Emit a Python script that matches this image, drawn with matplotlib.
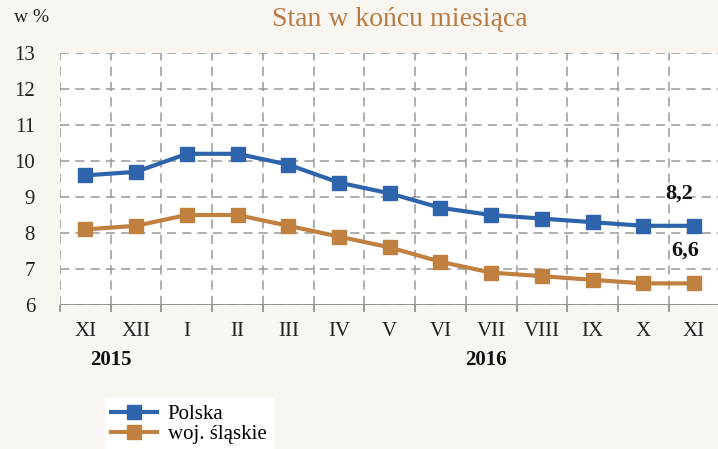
import matplotlib.pyplot as plt

# Miesiące (XI 2015 - XI 2016)
miesiace = ["XI", "XII", "I", "II", "III", "IV", "V", "VI", "VII", "VIII", "IX", "X", "XI"]

# Stopa bezrobocia w %
polska = [9.6, 9.7, 10.2, 10.2, 9.9, 9.4, 9.1, 8.7, 8.5, 8.4, 8.3, 8.2, 8.2]
slaskie = [8.1, 8.2, 8.5, 8.5, 8.2, 7.9, 7.6, 7.2, 6.9, 6.8, 6.7, 6.6, 6.6]

niebieski = "#2e64ab"
pomaranczowy = "#c0803f"
tlo = "#f9f6f1"
serif = ["Liberation Serif", "DejaVu Serif"]

fig = plt.figure(figsize=(7.18, 4.49), dpi=100, facecolor=tlo)
ax = fig.add_axes([60 / 718, 1 - 305 / 449, 1 - 60 / 718 + 0.002, (305 - 53) / 449])
ax.set_facecolor("white")

x = list(range(len(miesiace)))
ax.plot(x, polska, color=niebieski, lw=3, marker="s", ms=10, label="Polska", zorder=3)
ax.plot(x, slaskie, color=pomaranczowy, lw=3, marker="s", ms=10, label="woj. śląskie", zorder=3)

ax.set_xlim(-0.5, len(miesiace) - 0.5)
ax.set_ylim(6, 13)

# Siatka przerywana
for y in range(6, 14):
    ax.axhline(y, color="#999999", lw=1.1, ls=(0, (6, 4)), zorder=1)
for k in range(len(miesiace) + 1):
    ax.axvline(k - 0.5, color="#999999", lw=1.1, ls=(0, (6, 4)), zorder=1)

for s in ax.spines.values():
    s.set_visible(False)
ax.axhline(6, color="#8c8c8c", lw=2, zorder=2)

ax.set_yticks(range(6, 14))
ax.set_yticklabels([str(v) for v in range(6, 14)], fontsize=15, family=serif, color="#222222")
ax.tick_params(axis="y", length=0, pad=18)
ax.set_xticks(x)
ax.set_xticklabels(miesiace, fontsize=15, family=serif, color="#222222")
ax.tick_params(axis="x", length=0, pad=12)
ax.set_xticks([k - 0.5 for k in range(len(miesiace) + 1)], minor=True)
ax.tick_params(axis="x", which="minor", length=5, color="#8c8c8c", width=1.2)

# Lata
ax.text(0.5, -0.22, "2015", transform=ax.get_xaxis_transform(), ha="center", va="center",
        fontsize=15, fontweight="bold", family=serif, color="#111111")
ax.text(7.9, -0.22, "2016", transform=ax.get_xaxis_transform(), ha="center", va="center",
        fontsize=15, fontweight="bold", family=serif, color="#111111")

# Etykiety ostatnich wartości
ax.text(11.7, polska[-1] + 0.9, "8,2", ha="center", va="center", fontsize=16,
        fontweight="bold", family=serif, color="#111111")
ax.text(11.83, slaskie[-1] + 0.9, "6,6", ha="center", va="center", fontsize=16,
        fontweight="bold", family=serif, color="#111111")

fig.text(14 / 718, 1 - 18 / 449, "w %", fontsize=14, family=serif, color="#222222", va="center")
fig.text(400 / 718, 1 - 20 / 449, "Stan w końcu miesiąca", fontsize=20, family=serif,
         color="#b97a44", ha="center", va="center")

leg = fig.legend(loc="upper left", bbox_to_anchor=(105 / 718, 1 - 398 / 449),
                 prop={"family": serif, "size": 15}, frameon=True, fancybox=False,
                 facecolor="white", edgecolor="white", framealpha=1, borderaxespad=0,
                 handlelength=2.2, handletextpad=0.5, labelspacing=0.05, borderpad=0.3)

fig.savefig("out.png", dpi=100, facecolor=tlo)
